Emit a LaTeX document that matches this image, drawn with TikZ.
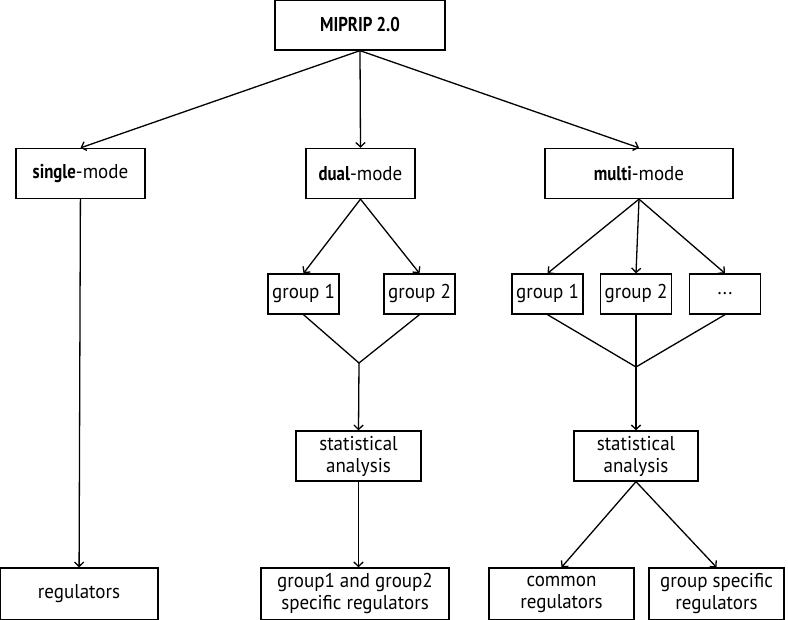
\documentclass[tikz,border=0pt]{standalone}
\usepackage{fontspec}
\setmainfont[FakeStretch=0.95, BoldFeatures={FakeStretch=0.84}]{PT Sans}
\usepackage{tikz}
\usetikzlibrary{arrows.meta,positioning}

\begin{document}
\begin{tikzpicture}[
  x=0.5pt, y=-0.5pt,
  box/.style={draw, line width=0.65pt, align=center, inner sep=1pt, minimum height=25pt, font=\fontsize{10}{11}\selectfont},
  grp/.style={box, minimum width=35.5pt, minimum height=20pt},
  arr/.style={-{Straight Barb[length=2.2pt,width=4.6pt]}, line width=0.65pt},
  lnk/.style={line width=0.65pt}
]
\useasboundingbox (0,0) rectangle (788,620);
% top and the three modes
\node[box, minimum width=85pt] (tool) at (360,25) {\textbf{MIPRIP 2.0}};
\node[box, minimum width=64.5pt] (single) at (80.5,173.5) {\textbf{single}-mode};
\node[box, minimum width=54.5pt] (dual) at (360.5,173.5) {\textbf{dual}-mode};
\node[box, minimum width=94pt] (multi) at (639,173.5) {\textbf{multi}-mode};
% groups
\node[grp] (dgroupA) at (303.5,294) {group 1};
\node[grp] (dgroupB) at (419.5,294) {group 2};
\node[grp] (mgroupA) at (547.5,294) {group 1};
\node[grp] (mgroupB) at (636,294) {group 2};
\node[grp] (mgroupC) at (725,294) {...};
\coordinate (dmerge) at (359,363);
\coordinate (mmerge) at (636,367);
% analysis
\node[box, minimum width=62.5pt] (dstat) at (358.5,456) {statistical\\analysis};
\node[box, minimum width=62pt] (mstat) at (636,456) {statistical\\analysis};
% results
\node[box, minimum width=79pt, minimum height=26pt] (regs) at (79,594) {regulators};
\node[box, minimum width=94pt, minimum height=26pt] (dregs) at (355,594) {group1 and group2\\specific regulators};
\node[box, minimum width=72.5pt, minimum height=26pt] (common) at (561.5,594) {common\\regulators};
\node[box, minimum width=67.5pt, minimum height=26pt] (specific) at (716.5,594) {group specific\\regulators};

\draw[arr] (tool.south) -- (single.north);
\draw[arr] (tool.south) -- (dual.north);
\draw[arr] (tool.south) -- (multi.north);
\draw[arr] (single) -- (regs);
\draw[arr] (dual.south) -- (dgroupA.north);
\draw[arr] (dual.south) -- (dgroupB.north);
\draw[arr] (multi.south) -- (mgroupA.north);
\draw[arr] (multi.south) -- (mgroupB.north);
\draw[arr] (multi.south) -- (mgroupC.north);
\draw[lnk] (dgroupA.south) -- (dmerge) -- (dgroupB.south);
\draw[lnk] (mgroupA.south) -- (mmerge) -- (mgroupC.south);
\draw[lnk] (mgroupB.south) -- (mmerge);
\draw[arr] (dmerge) -- (dstat.north);
\draw[arr] (mmerge) -- (mstat.north);
\draw[arr] (dstat.south) -- (dstat.south |- dregs.north);
\draw[arr] (mstat.south) -- (common.north);
\draw[arr] (mstat.south) -- (specific.north);
\end{tikzpicture}
\end{document}
